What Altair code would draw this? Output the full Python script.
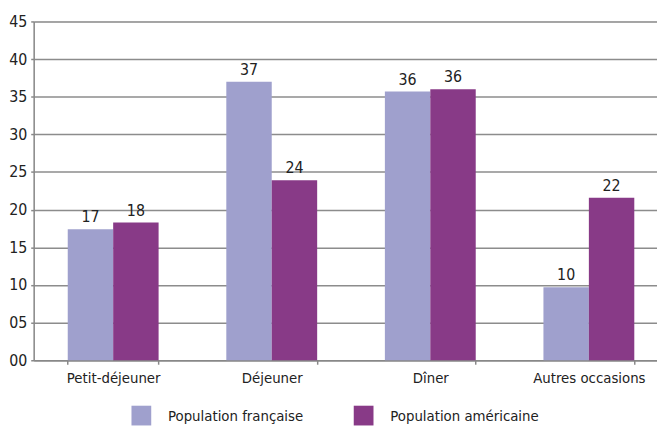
import altair as alt
import pandas as pd

categories = ["Petit-déjeuner", "Déjeuner", "Dîner", "Autres occasions"]
series = ["Population française", "Population américaine"]
french = [17.4, 37.0, 35.7, 9.7]
american = [18.3, 23.9, 36.0, 21.6]
y_ticks = [0, 5, 10, 15, 20, 25, 30, 35, 40, 45]
colors = ["#9fa0cd", "#883a87"]

rows = []
for i, c in enumerate(categories):
    rows.append({"cat": c, "serie": series[0], "val": french[i]})
    rows.append({"cat": c, "serie": series[1], "val": american[i]})
df = pd.DataFrame(rows)

FONT = "DejaVu Sans Condensed, sans-serif"

x = alt.X("cat:N", sort=categories,
          scale=alt.Scale(paddingInner=0.427, paddingOuter=0.179, align=0.6),
          axis=alt.Axis(title=None, labelAngle=0, tickBand="extent", grid=False,
                        labelFont=FONT, labelFontSize=15, labelColor="#222",
                        labelPadding=7, tickSize=4, tickColor="#888", domainColor="#888",
                        domainWidth=1.5, tickWidth=1.5))
xo = alt.XOffset("serie:N", sort=series, scale=alt.Scale(paddingInner=0, paddingOuter=0))
y = alt.Y("val:Q", scale=alt.Scale(domain=[0, 45], nice=False),
          axis=alt.Axis(title=None, values=y_ticks, format="02d", grid=True,
                        gridColor="#8c8c8c", gridWidth=1.5, domainColor="#888", domainWidth=1.5,
                        tickColor="#888", tickSize=3, tickWidth=1.5,
                        labelFont=FONT, labelFontSize=16, labelColor="#222", labelPadding=4))
color = alt.Color("serie:N", sort=series,
                  scale=alt.Scale(domain=series, range=colors),
                  legend=alt.Legend(title=None, orient="none", legendX=99, legendY=389,
                                    direction="horizontal", symbolType="square",
                                    symbolSize=400, symbolStrokeWidth=0, symbolOpacity=1,
                                    labelFont=FONT, labelFontSize=15, labelColor="#222",
                                    labelOffset=17, columnPadding=50, padding=0, labelLimit=0))

base = alt.Chart(df)
bars = base.mark_bar(opacity=1).encode(x=x, xOffset=xo, y=y, color=color)
labels = base.mark_text(baseline="bottom", dy=-4, font=FONT, fontSize=16, color="#222").encode(
    x=x, xOffset=xo, y=y, text=alt.Text("val:Q", format=".0f"))

chart = (bars + labels).properties(
    width=631, height=343,
    autosize=alt.AutoSizeParams(type="none"),
    padding={"left": 26, "top": 11, "right": 0, "bottom": 70},
).configure_view(stroke=None).configure(background="white")

chart.save("out.html", embed_options={"renderer": "svg", "actions": False})
